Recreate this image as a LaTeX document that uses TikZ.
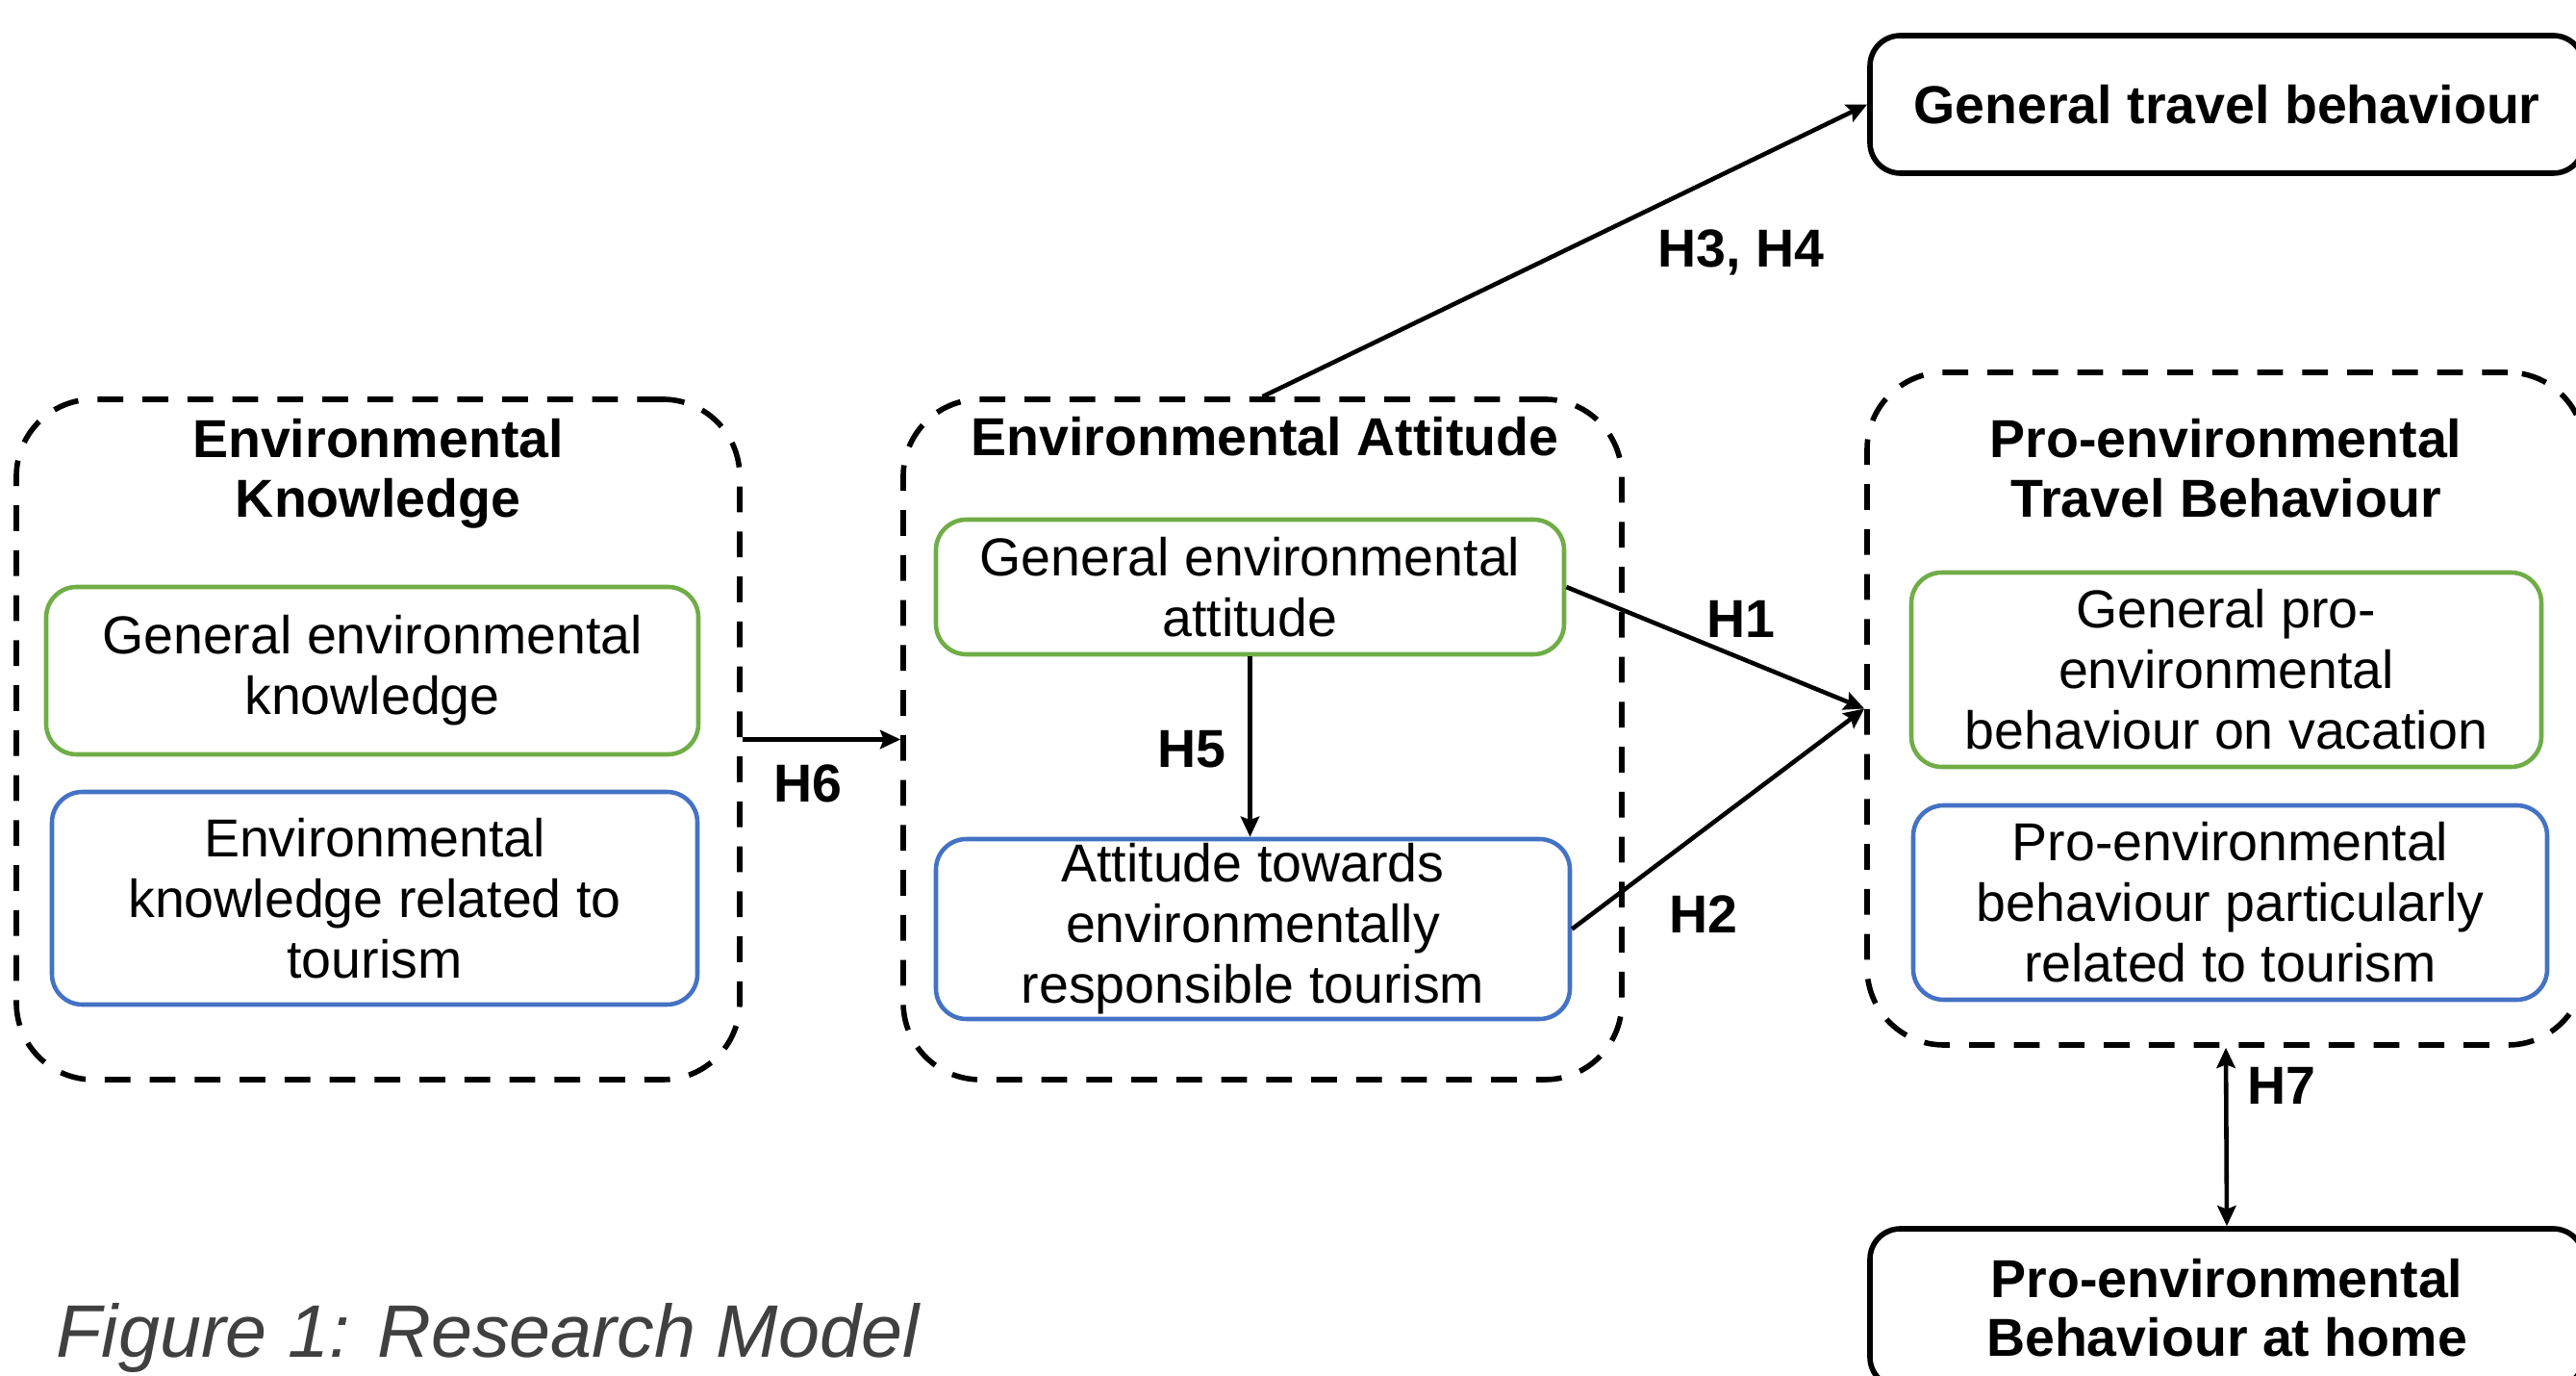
\documentclass[tikz,border=0pt]{standalone}
\usepackage{fontspec}
\setmainfont{Liberation Sans}
\usepackage{tikz}
\usetikzlibrary{arrows.meta,positioning,calc}
\definecolor{grn}{HTML}{70AD47}
\definecolor{blu}{HTML}{4472C4}
\definecolor{capgray}{HTML}{404040}

\begin{document}
\begin{tikzpicture}[
  grpbox/.style={draw=black,line width=1.6pt,dash pattern=on 7.6pt off 5.7pt,
                 rounded corners=0.8cm,inner sep=0pt},
  gbox/.style={draw=grn,line width=1.3pt,rounded corners=9pt,align=center,
               inner sep=0pt,font=\fontsize{15.8}{17.9}\selectfont},
  bbox/.style={gbox,draw=blu},
  endbox/.style={draw=black,line width=1.6pt,rounded corners=9pt,align=center,
                 inner sep=0pt,font=\fontsize{15.8}{17.4}\selectfont\bfseries},
  grptitle/.style={align=center,inner sep=0pt,anchor=north,
                   font=\fontsize{15.8}{17.4}\selectfont\bfseries},
  hyp/.style={inner sep=0pt,anchor=base,font=\fontsize{15.8}{17.4}\selectfont\bfseries},
  link/.style={line width=1.3pt,-{Stealth[length=6pt,width=5.5pt,inset=1pt]}},
  both/.style={line width=1.3pt,{Stealth[length=6pt,width=5.5pt,inset=1pt]}-{Stealth[length=6pt,width=5.5pt,inset=1pt]}}
]
  \useasboundingbox (0,0) rectangle (26.78,-14.30);

  % Three dashed groups
  \node[grpbox,minimum width=7.52cm,minimum height=7.07cm] (kgrp) at (3.93,-7.685) {};
  \node[grpbox,minimum width=7.47cm,minimum height=7.07cm] (agrp) at (13.125,-7.685) {};
  \node[grpbox,minimum width=7.46cm,minimum height=6.99cm] (pgrp) at (23.14,-7.365) {};

  \node[grptitle] (ktitle) at (3.93,-4.35) {Environmental\\Knowledge};
  \node[grptitle] (atitle) at (13.15,-4.33) {Environmental Attitude};
  \node[grptitle] (ptitle) at (23.14,-4.35) {Pro-environmental\\Travel Behaviour};

  % Inner boxes (green = general, blue = tourism)
  \node[gbox,minimum width=6.78cm,minimum height=1.74cm] (gknow) at (3.87,-6.97)
    {General environmental\\knowledge};
  \node[bbox,minimum width=6.71cm,minimum height=2.21cm] (bknow) at (3.895,-9.335)
    {Environmental\\knowledge related to\\tourism};
  \node[gbox,minimum width=6.53cm,minimum height=1.40cm] (gatt) at (12.995,-6.10)
    {General environmental\\attitude};
  \node[bbox,minimum width=6.59cm,minimum height=1.87cm] (batt) at (13.025,-9.655)
    {Attitude towards\\environmentally\\responsible tourism};
  \node[gbox,minimum width=6.55cm,minimum height=2.02cm] (gpro) at (23.145,-6.96)
    {General pro-\\environmental\\behaviour on vacation};
  \node[bbox,minimum width=6.59cm,minimum height=2.02cm] (bpro) at (23.185,-9.38)
    {Pro-environmental\\behaviour particularly\\related to tourism};

  % Outer boxes
  \node[endbox,minimum width=7.42cm,minimum height=1.43cm] (travel) at (23.15,-1.085)
    {General travel behaviour};
  \node[endbox,minimum width=7.42cm,minimum height=1.65cm] (home) at (23.15,-13.595)
    {Pro-environmental\\Behaviour at home};

  % Hypotheses
  \draw[link] (agrp.north) -- (travel.west);
  \draw[link] (gatt.east) -- (pgrp.west);
  \draw[link] (batt.east) -- (pgrp.west);
  \draw[link] (gatt.south) -- (gatt.south |- batt.north);
  \draw[link] (kgrp.east) -- (agrp.west);
  \draw[both] (pgrp.south) -- (home.north);

  \node[hyp] (h34) at (18.10,-2.78) {H3, H4};
  \node[hyp] (h1) at (18.10,-6.63) {H1};
  \node[hyp] (h2) at (17.71,-9.70) {H2};
  \node[hyp] (h5) at (12.39,-7.98) {H5};
  \node[hyp] (h6) at (8.40,-8.34) {H6};
  \node[hyp] (h7) at (23.72,-11.48) {H7};

  % Caption
  \node[anchor=base west,inner sep=0pt,text=capgray,
        font=\fontsize{22}{26}\selectfont\itshape] (caption) at (0.58,-14.11)
    {Figure 1: Research Model};
\end{tikzpicture}
\end{document}
